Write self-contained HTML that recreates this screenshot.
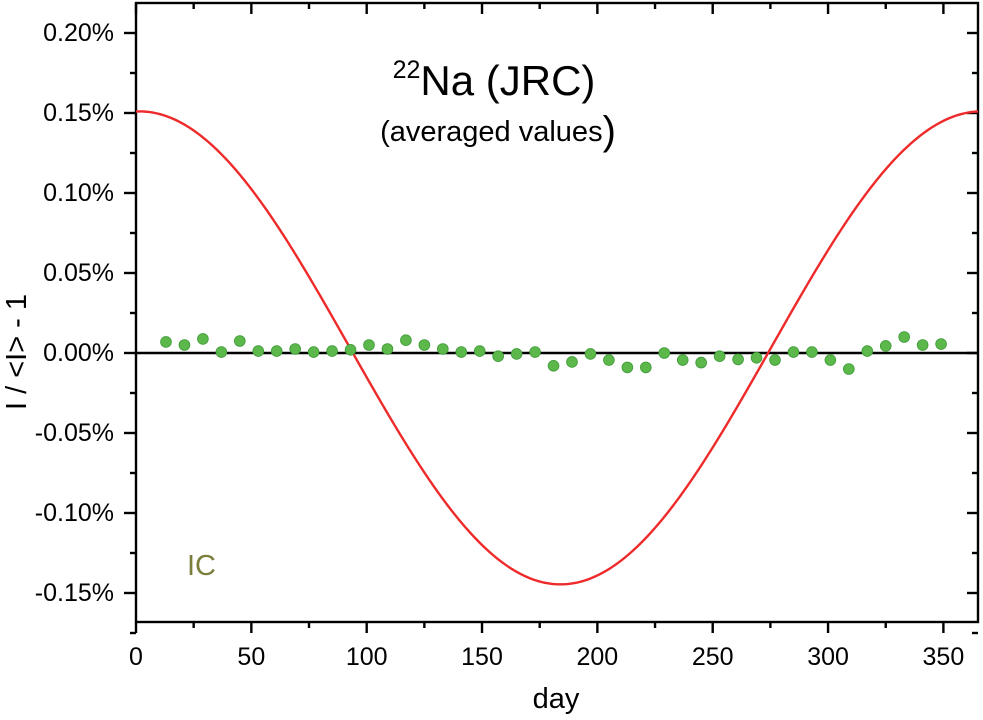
<!DOCTYPE html>
<html><head><meta charset="utf-8">
<style>
html,body{margin:0;padding:0;background:#fff;}
svg{display:block;font-family:"Liberation Sans",Arial,sans-serif;}
</style></head>
<body>
<svg id="chart" width="983" height="720" viewBox="0 0 983 720" xmlns="http://www.w3.org/2000/svg">
<g id="axes"></g>
<g id="marks"></g>
<text x="494" y="95" font-size="42" text-anchor="middle"><tspan font-size="25" dy="-17">22</tspan><tspan dy="17">Na (JRC)</tspan></text>
<text x="498" y="141" font-size="29" text-anchor="middle">(averaged values<tspan font-size="40" dy="3">)</tspan></text>
<text x="187" y="575" font-size="29" fill="#7b7d3a">IC</text>
<text x="556" y="708" font-size="29" text-anchor="middle">day</text>
<text transform="translate(26,352) rotate(-90)" font-size="29" text-anchor="middle">I / &lt;I&gt; - 1</text>
</svg>
<script>
const days = [13,21,29,37,45,53,61,69,77,85,93,101,109,117,125,133,141,149,157,165,173,181,189,197,205,213,221,229,237,245,253,261,269,277,285,293,301,309,317,325,333,341,349];
const values = [0.0069,0.005,0.0088,0.0006,0.0075,0.0012,0.0012,0.0025,0.0006,0.0012,0.002,0.005,0.0025,0.008,0.005,0.0025,0.0006,0.0012,-0.002,-0.0006,0.0006,-0.008,-0.0056,-0.0006,-0.0044,-0.009,-0.009,0.0,-0.0044,-0.006,-0.002,-0.004,-0.003,-0.0044,0.0006,0.0006,-0.0044,-0.01,0.0012,0.0044,0.01,0.005,0.0056];
const curveDays = [];
const curveValues = [];
for (let d = 0; d <= 365; d += 1) { curveDays.push(d); curveValues.push(0.0032 + 0.1478*Math.cos(2*Math.PI*(d-1.5)/365)); }
const xTicks = [0,50,100,150,200,250,300,350];
const yTicks = [-0.15,-0.10,-0.05,0.00,0.05,0.10,0.15,0.20];
const yTickLabels = ["-0.15%","-0.10%","-0.05%","0.00%","0.05%","0.10%","0.15%","0.20%"];

const NS="http://www.w3.org/2000/svg";
const L=136,R=978,T=3,B=622;
function xs(d){return L+(d/365)*(R-L);}
function ys(v){return 353-v*1600;}
function mk(tag,attrs,parent){const e=document.createElementNS(NS,tag);for(const k in attrs)e.setAttribute(k,attrs[k]);parent.appendChild(e);return e;}
const ax=document.getElementById('axes'), mg=document.getElementById('marks');
const SW=2.4;

const zl=mk('line',{x1:L,x2:R,y1:ys(0),y2:ys(0),stroke:'#000','stroke-width':SW},ax);



xTicks.forEach((t,i)=>{
  const x=xs(t);
  const tk=mk('line',{x1:x,x2:x,y1:B,y2:B+11,stroke:'#000','stroke-width':SW},ax);
  
  
  mk('line',{x1:x,x2:x,y1:T,y2:T+11,stroke:'#000','stroke-width':SW},ax);
  const m=xs(t+25);
  if(t+25<365){mk('line',{x1:m,x2:m,y1:B,y2:B+6,stroke:'#000','stroke-width':SW},ax);mk('line',{x1:m,x2:m,y1:T,y2:T+6,stroke:'#000','stroke-width':SW},ax);}
  const lb=mk('text',{x:x,y:665,'font-size':25,'text-anchor':'middle'},ax);
  lb.textContent=String(t);
  
  
});
yTicks.forEach((v,i)=>{
  const y=ys(v);
  const tk=mk('line',{x1:L-12,x2:L,y1:y,y2:y,stroke:'#000','stroke-width':SW},ax);
  
  
  mk('line',{x1:R-11,x2:R,y1:y,y2:y,stroke:'#000','stroke-width':SW},ax);
  const my=ys(v+0.025);
  if(my>T+2){mk('line',{x1:L-6,x2:L,y1:my,y2:my,stroke:'#000','stroke-width':SW},ax);mk('line',{x1:R-6,x2:R,y1:my,y2:my,stroke:'#000','stroke-width':SW},ax);}
  const lb=mk('text',{x:L-22,y:y+8,'font-size':25,'text-anchor':'end'},ax);
  lb.textContent=yTickLabels[i];
  
  
});
const my2=ys(-0.175);
mk('line',{x1:L-6,x2:L,y1:my2,y2:my2,stroke:'#000','stroke-width':SW},ax);
mk('line',{x1:R-6,x2:R,y1:my2,y2:my2,stroke:'#000','stroke-width':SW},ax);
const fr=mk('rect',{x:L,y:T,width:R-L,height:B-T,fill:'none',stroke:'#000','stroke-width':SW},ax);



let dstr='';
curveDays.forEach((d,i)=>{dstr+=(i?'L':'M')+xs(d).toFixed(2)+','+ys(curveValues[i]).toFixed(2);});
const cv=mk('path',{d:dstr,fill:'none',stroke:'#ee2a2a','stroke-width':2.4},mg);



days.forEach((d,i)=>{
  const c=mk('circle',{cx:xs(d),cy:ys(values[i]),r:5.4,fill:'#5cb84a',stroke:'#3f9a3a','stroke-width':0.8},mg);
  
  
});
</script>
</body></html>
